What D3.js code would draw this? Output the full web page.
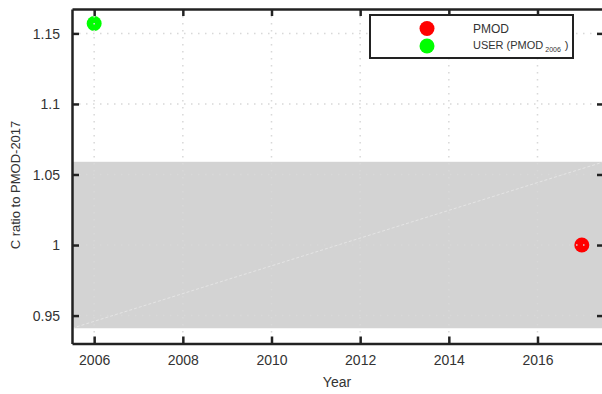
<!DOCTYPE html>
<html><head><meta charset="utf-8">
<script src="https://cdn.jsdelivr.net/npm/d3@7/dist/d3.min.js"></script>
<style>
body{margin:0;background:#fff;}
text{font-family:"Liberation Sans",Arial,Helvetica,sans-serif;fill:#333;}
</style></head>
<body><svg id="c" width="602" height="394"></svg>
<script>
const seriesNames = ["PMOD", "USER"];
const seriesColors = ["#ff0000", "#00ff00"];
const pmodYears = [2017];
const pmodValues = [1.0];
const userYears = [2006];
const userValues = [1.157];
const bandLow = 0.941, bandHigh = 1.059;
const trendYears = [2005.5, 2017.5];
const trendValues = [0.941, 1.059];
const xTicks = [2006, 2008, 2010, 2012, 2014, 2016];
const yTicks = [0.95, 1.0, 1.05, 1.1, 1.15];
const yTickLabels = ["0.95", "1", "1.05", "1.1", "1.15"];

const svg = d3.select("#c");
const L = 72, R = 604, T = 9, B = 343.5;
const x = d3.scaleLinear().domain([2005.5, 2017.5]).range([L, R]);
const y = d3.scaleLinear().domain([0.9302, 1.1673]).range([B, T]);

// band
svg.append("rect").attr("x", L).attr("width", R - L)
  .attr("y", y(bandHigh)).attr("height", y(bandLow) - y(bandHigh))
  .attr("fill", "#d3d3d3");

// trend line
svg.append("path")
  .datum(trendYears.map((d, i) => [d, trendValues[i]]))
  .attr("d", d3.line().x(d => x(d[0])).y(d => y(d[1])))
  .attr("stroke", "#e8e8e8").attr("stroke-width", 0.8)
  .attr("stroke-dasharray", "3,2").attr("fill", "none");

// points
const pts = svg.append("g");
pts.selectAll(".p").data(pmodYears.map((d, i) => [d, pmodValues[i]])).join("circle")
  .attr("cx", d => x(d[0])).attr("cy", d => y(d[1])).attr("r", 7.5).attr("fill", seriesColors[0]);
pts.selectAll(".u").data(userYears.map((d, i) => [d, userValues[i]])).join("circle")
  .attr("cx", d => x(d[0])).attr("cy", d => y(d[1])).attr("r", 7.5).attr("fill", seriesColors[1]);

// grid (drawn above points)
const grid = svg.append("g").attr("stroke", "#d8d8d8").attr("stroke-width", 1.5)
  .attr("stroke-dasharray", "1.5,5.5");
grid.selectAll(".gx").data(xTicks).join("line")
  .attr("x1", d => x(d)).attr("x2", d => x(d)).attr("y1", T).attr("y2", B);
grid.selectAll(".gy").data(yTicks).join("line")
  .attr("y1", d => y(d)).attr("y2", d => y(d)).attr("x1", L).attr("x2", R);

// axes
const ax = svg.append("g");
const axB = ax.append("g").attr("transform", `translate(0,${B})`)
  .call(d3.axisBottom(x).tickValues(xTicks).tickFormat(d3.format("d")).tickSizeInner(-7).tickSizeOuter(0).tickPadding(12));
const axT = ax.append("g").attr("transform", `translate(0,${T})`)
  .call(d3.axisTop(x).tickValues(xTicks).tickFormat("").tickSizeInner(-7).tickSizeOuter(0));
const axL = ax.append("g").attr("transform", `translate(${L},0)`)
  .call(d3.axisLeft(y).tickValues(yTicks).tickFormat((d, i) => yTickLabels[i]).tickSizeInner(-7).tickSizeOuter(0).tickPadding(12));
const axR = ax.append("g").attr("transform", `translate(${R},0)`)
  .call(d3.axisRight(y).tickValues(yTicks).tickFormat("").tickSizeInner(-7).tickSizeOuter(0));
[axB, axT, axL, axR].forEach(g => {
  g.select(".domain").attr("stroke", "#222").attr("stroke-width", 2.5);
  g.selectAll(".tick line").attr("stroke", "#222").attr("stroke-width", 2.5);
  g.selectAll("text").style("font-size", "14px").attr("fill", "#333");
});
axL.selectAll("text").attr("dy", "0.35em");

// axis titles
svg.append("text").attr("x", 337).attr("y", 387).attr("text-anchor", "middle")
  .style("font-size", "14px").text("Year");
svg.append("text").attr("transform", `translate(19.5,185) rotate(-90)`)
  .attr("text-anchor", "middle").style("font-size", "13px").text("C ratio to PMOD-2017");

// legend
const lg = svg.append("g");
lg.append("rect").attr("x", 370).attr("y", 15).attr("width", 203).attr("height", 43)
  .attr("fill", "#fff").attr("stroke", "#222").attr("stroke-width", 2);
lg.append("circle").attr("cx", 427).attr("cy", 28.5).attr("r", 7.5).attr("fill", seriesColors[0]);
lg.append("circle").attr("cx", 427).attr("cy", 46).attr("r", 7.5).attr("fill", seriesColors[1]);
lg.append("text").attr("x", 473).attr("y", 33).style("font-size", "12px").text(seriesNames[0]);
const t2 = lg.append("text").attr("x", 473).attr("y", 48.5).style("font-size", "11px").attr("fill", "#333");
t2.append("tspan").attr("fill", "#333").text(seriesNames[1] + " (PMOD");
t2.append("tspan").attr("fill", "#333").attr("dy", 3).attr("dx", 2).style("font-size", "7px").text("2006");
t2.append("tspan").attr("fill", "#333").attr("dy", -3).attr("dx", 4).text(")");
</script></body></html>
